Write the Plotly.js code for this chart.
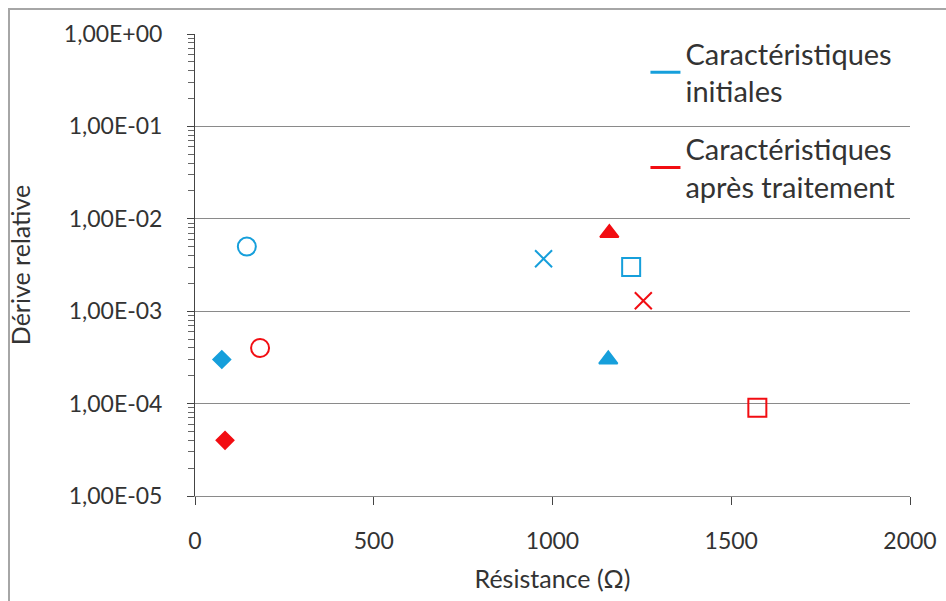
<!DOCTYPE html>
<html>
<head>
<meta charset="utf-8">
<script src="https://cdn.plot.ly/plotly-3.0.1.min.js"></script>
<style>
  html, body { margin: 0; padding: 0; background: #fff; }
  #frame { position: absolute; left: 8px; top: 8px; width: 1000px; height: 1000px; border: 2px solid #a6a6a6; box-sizing: border-box; }
  #chart { position: absolute; left: 0; top: 0; width: 946px; height: 601px; }
</style>
</head>
<body>
<div id="frame"></div>
<div id="chart"></div>
<script>
// Caractéristiques initiales (blue)
const initResistance = [145, 75, 975, 1220, 1156];
const initDerive = [5.0e-3, 3.0e-4, 3.7e-3, 3.0e-3, 3.0e-4];
const initSymbols = ['circle-open', 'diamond', 'x-thin-open', 'square-open', 'triangle-up'];

// Caractéristiques après traitement (red)
const apresResistance = [182, 84, 1159, 1254, 1573];
const apresDerive = [4.0e-4, 4.0e-5, 7.0e-3, 1.3e-3, 9.0e-5];
const apresSymbols = ['circle-open', 'diamond', 'triangle-up', 'x-thin-open', 'square-open'];

const seriesNames = ['Caractéristiques<br>initiales', 'Caractéristiques<br>après traitement'];

const xTickVals = [0, 500, 1000, 1500, 2000];
const yTickVals = [1, 1e-1, 1e-2, 1e-3, 1e-4, 1e-5];
const yTickText = ['1,00E+00', '1,00E-01', '1,00E-02', '1,00E-03', '1,00E-04', '1,00E-05'];

const BLUE = '#169fdb';
const RED = '#f20d12';

const sizeFor = { 'circle-open': 18, 'diamond': 13, 'x-thin-open': 17, 'square-open': 18, 'triangle-up': 16 };

function pointTraces(xs, ys, syms, color) {
  return xs.map((x, i) => ({
    type: 'scatter', mode: 'markers',
    x: [x], y: [ys[i]],
    showlegend: false, hoverinfo: 'x+y',
    marker: {
      symbol: syms[i], size: sizeFor[syms[i]], color: color,
      line: { color: color, width: 2 }
    }
  }));
}

const traces = []
  .concat(pointTraces(initResistance, initDerive, initSymbols, BLUE))
  .concat(pointTraces(apresResistance, apresDerive, apresSymbols, RED));

traces.push({ type: 'scatter', mode: 'lines', x: [null], y: [null], name: seriesNames[0],
  legendgroup: 'a', line: { color: BLUE, width: 3 }, showlegend: true });
traces.push({ type: 'scatter', mode: 'lines', x: [null], y: [null], name: seriesNames[1],
  legendgroup: 'b', line: { color: RED, width: 3 }, showlegend: true });

const FONT = 'Lato, "Open Sans", sans-serif';

const layout = {
  width: 946, height: 601,
  margin: { l: 195, r: 36, t: 34, b: 105 },
  paper_bgcolor: 'rgba(0,0,0,0)',
  plot_bgcolor: 'rgba(0,0,0,0)',
  font: { family: FONT, size: 23, color: '#333' },
  showlegend: true,
  legend: {
    x: 0.63, y: 1.013, xanchor: 'left', yanchor: 'top',
    bgcolor: 'rgba(0,0,0,0)', borderwidth: 0,
    font: { family: FONT, size: 29, color: '#333' },
    traceorder: 'grouped', tracegroupgap: 17,
    itemwidth: 30
  },
  xaxis: {
    range: [0, 2000], tickvals: xTickVals, ticktext: xTickVals.map(String),
    showgrid: false, zeroline: false,
    showline: true, linecolor: '#8a8a8a', linewidth: 1,
    ticks: 'outside', ticklen: 8, tickcolor: '#444', tickwidth: 1,
    ticklabelstandoff: 16,
    tickfont: { family: FONT, size: 23, color: '#333' },
    title: { text: 'Résistance (Ω)', font: { family: FONT, size: 25, color: '#333' }, standoff: 17 }
  },
  yaxis: {
    type: 'log', range: [-5, 0],
    tickvals: yTickVals, ticktext: yTickText,
    showgrid: true, gridcolor: '#8a8a8a', gridwidth: 1,
    zeroline: false,
    showline: true, linecolor: '#444', linewidth: 1,
    ticks: 'outside', ticklen: 7, tickcolor: '#444', tickwidth: 1,
    ticklabelstandoff: 20,
    minor: { ticks: 'outside', ticklen: 6, tickcolor: '#666', dtick: 'D1', showgrid: false },
    tickfont: { family: FONT, size: 23, color: '#333' },
    title: { text: 'Dérive relative', font: { family: FONT, size: 25, color: '#333' }, standoff: 26 }
  }
};

Plotly.newPlot('chart', traces, layout, { displayModeBar: false, staticPlot: true });
</script>
</body>
</html>
